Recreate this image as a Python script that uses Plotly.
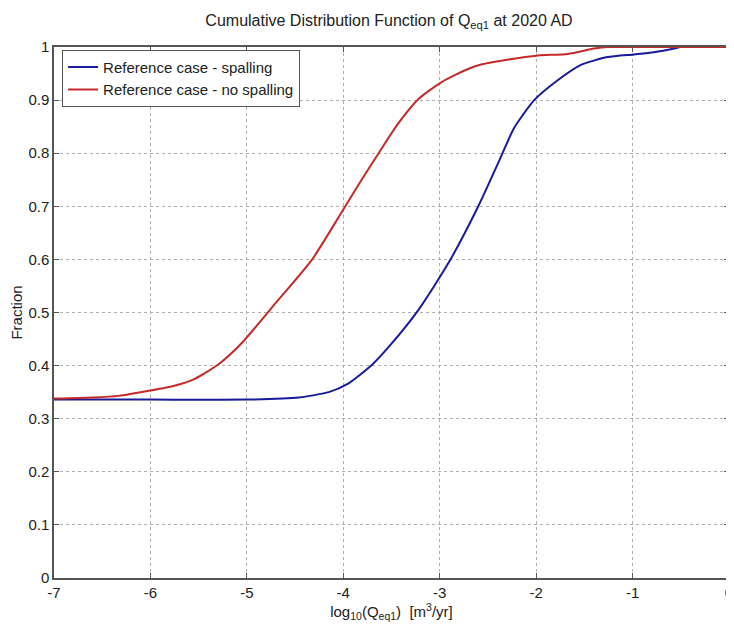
import plotly.graph_objects as go

# Data
red_x = [-7.0, -6.6, -6.33, -6.0, -5.75, -5.54, -5.29, -5.05, -4.70, -4.33, -4.0,
         -3.81, -3.63, -3.43, -3.22, -2.98, -2.70, -2.57, -2.30, -1.98, -1.67, -1.40,
         -1.26, -1.0, -0.5, 0.0]
red_y = [0.338, 0.340, 0.343, 0.353, 0.362, 0.375, 0.403, 0.443, 0.518, 0.598, 0.694,
         0.750, 0.801, 0.856, 0.902, 0.934, 0.959, 0.967, 0.976, 0.984, 0.987, 0.997,
         1.0, 1.0, 1.0, 1.0]

blue_x = [-7.0, -6.0, -5.0, -4.46, -4.15, -3.95, -3.71, -3.52, -3.22, -2.91, -2.60,
          -2.38, -2.23, -2.02, -1.78, -1.54, -1.26, -0.98, -0.78, -0.57, -0.5, 0.0]
blue_y = [0.336, 0.336, 0.336, 0.340, 0.350, 0.366, 0.400, 0.437, 0.505, 0.593, 0.700,
          0.787, 0.847, 0.900, 0.937, 0.966, 0.981, 0.986, 0.990, 0.997, 1.0, 1.0]

x_ticks = [-7, -6, -5, -4, -3, -2, -1, 0]
x_tick_labels = ["-7", "-6", "-5", "-4", "-3", "-2", "-1", "0"]
y_ticks = [0, 0.1, 0.2, 0.3, 0.4, 0.5, 0.6, 0.7, 0.8, 0.9, 1]
y_tick_labels = ["0", "0.1", "0.2", "0.3", "0.4", "0.5", "0.6", "0.7", "0.8", "0.9", "1"]

font_family = "Liberation Sans, Arial, sans-serif"
txt = "#222222"

W, H = 726, 620  # page body has an 8px default margin

fig = go.Figure()
fig.add_trace(go.Scatter(x=blue_x, y=blue_y, mode="lines",
                         name="Reference case - spalling",
                         line=dict(color="#1a1a9c", width=2, shape="spline", smoothing=0.6)))
fig.add_trace(go.Scatter(x=red_x, y=red_y, mode="lines",
                         name="Reference case - no spalling",
                         line=dict(color="#c42a2a", width=2, shape="spline", smoothing=0.6)))

axis_common = dict(
    showgrid=True, gridcolor="#b0b0b0", griddash="dot", gridwidth=1,
    showline=True, linecolor="#555555", linewidth=1.5, mirror="allticks",
    ticks="inside", ticklen=5, tickcolor="#555555",
    zeroline=False, automargin=False,
    tickfont=dict(size=15, color=txt, family=font_family),
)

fig.update_xaxes(range=[-7, 0], tickvals=x_ticks, ticktext=x_tick_labels,
                 title=dict(text="log<sub>10</sub>(Q<sub>eq1</sub>)  [m<sup>3</sup>/yr]",
                            font=dict(size=15, color=txt, family=font_family), standoff=2),
                 **axis_common)
fig.update_yaxes(range=[0, 1], tickvals=y_ticks, ticktext=y_tick_labels,
                 title=dict(text="Fraction", font=dict(size=15, color=txt, family=font_family),
                            standoff=4),
                 **axis_common)

fig.update_layout(
    width=W, height=H,
    margin=dict(l=46, r=5, t=39, b=50),
    paper_bgcolor="white", plot_bgcolor="white",
    title=dict(text="Cumulative Distribution Function of Q<sub>eq1</sub> at 2020 AD",
               x=381 / W, xanchor="center", y=1 - 12 / H, yanchor="middle",
               font=dict(size=16, color=txt, family=font_family), automargin=False),
    legend=dict(x=0.012, y=0.995, xanchor="left", yanchor="top",
                bgcolor="white", bordercolor="#555555", borderwidth=1,
                font=dict(size=15, color=txt, family=font_family),
                tracegroupgap=0, itemwidth=30),
    showlegend=True,
)

fig.write_html("out.html")
